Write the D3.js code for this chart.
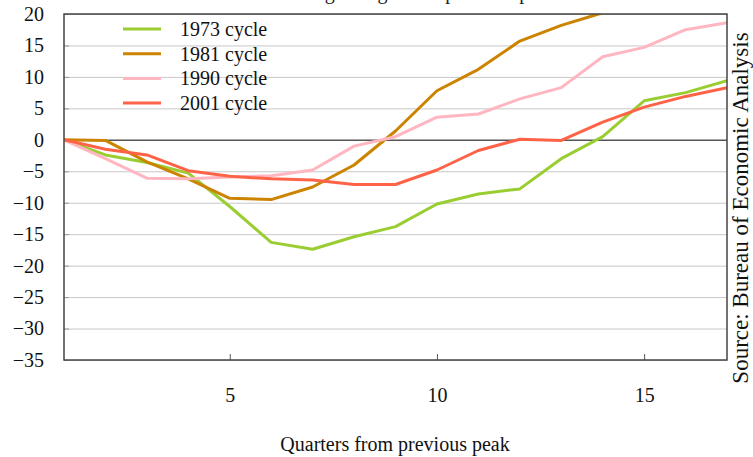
<!DOCTYPE html>
<html>
<head>
<meta charset="utf-8">
<script src="https://cdn.jsdelivr.net/npm/d3@7"></script>
<style>
  body { margin: 0; background: #fff; }
  svg, svg text { font-family: "Liberation Serif", "Times New Roman", serif !important; }
</style>
</head>
<body>
<div id="chart"></div>
<script>
// quarters since the previous peak
var quarters = d3.range(1, 18);

var cycles = ['1973 cycle', '1981 cycle', '1990 cycle', '2001 cycle'];
var colors = ['#9acd32', '#cc8400', '#ffb6c1', '#ff6347'];

var cycle1973 = [0, -2.4, -3.6, -5.3, -10.6, -16.3, -17.4, -15.4, -13.8, -10.2, -8.6, -7.8, -3.0, 0.5, 6.2, 7.5, 9.4];
var cycle1981 = [0, -0.1, -3.5, -6.2, -9.3, -9.5, -7.5, -4.0, 1.4, 7.8, 11.2, 15.7, 18.2, 20.2];
var cycle1990 = [0, -3.0, -6.1, -6.2, -5.9, -5.7, -4.8, -1.0, 0.5, 3.6, 4.1, 6.5, 8.3, 13.2, 14.7, 17.5, 18.6];
var cycle2001 = [0, -1.5, -2.4, -4.9, -5.8, -6.2, -6.4, -7.1, -7.1, -4.8, -1.7, 0.1, -0.1, 2.8, 5.2, 6.9, 8.3];

var yTicks = [20, 15, 10, 5, 0, -5, -10, -15, -20, -25, -30, -35];
var xTicks = [5, 10, 15];

var series = [cycle1973, cycle1981, cycle1990, cycle2001];

(function() {
  var width = 753, height = 457;
  var plotLeft = 64, plotRight = 727, plotTop = 14, plotBottom = 360;

  var svg = d3.select('#chart').append('svg')
      .attr('width', width)
      .attr('height', height);

  var x = d3.scaleLinear().domain([1, 17]).range([plotLeft, plotRight]);
  var y = d3.scaleLinear().domain([-35, 20]).range([plotBottom, plotTop]);

  // title sits mostly above the page, only its descenders show
  svg.append('text')
      .attr('x', 412)
      .attr('y', -1)
      .attr('text-anchor', 'middle')
      .style('font-size', '20px')
      .attr('fill', '#222')
      .text('Housing change from previous peak');

  svg.append('defs').append('clipPath')
      .attr('id', 'plotClip')
    .append('rect')
      .attr('x', plotLeft).attr('y', plotTop)
      .attr('width', plotRight - plotLeft).attr('height', plotBottom - plotTop);

  // grid lines
  svg.append('g')
      .attr('transform', 'translate(' + plotLeft + ',0)')
      .call(d3.axisLeft(y).tickValues(yTicks).tickSize(-(plotRight - plotLeft)).tickFormat(''))
      .call(function(g) {
        g.select('.domain').remove();
        g.selectAll('line')
          .attr('stroke', function(d) { return d === 0 ? '#555' : '#c8c8c8'; })
          .attr('stroke-width', function(d) { return d === 0 ? 1.5 : 1; });
      });

  // small inner ticks on the left edge
  svg.append('g')
      .attr('transform', 'translate(' + plotLeft + ',0)')
      .call(d3.axisLeft(y).tickValues(yTicks).tickSize(-5).tickFormat(''))
      .call(function(g) {
        g.select('.domain').remove();
        g.selectAll('line').attr('stroke', '#999');
      });

  // y tick labels
  svg.append('g')
      .attr('transform', 'translate(' + plotLeft + ',0)')
      .call(d3.axisLeft(y).tickValues(yTicks).tickSize(0).tickPadding(20)
        .tickFormat(function(d) { return d < 0 ? '\u2212' + Math.abs(d) : d; }))
      .call(function(g) {
        g.select('.domain').remove();
        g.selectAll('text').style('font-size', '20px').attr('fill', '#111');
      });

  // x axis: ticks point inward, labels well below
  svg.append('g')
      .attr('transform', 'translate(0,' + plotBottom + ')')
      .call(d3.axisBottom(x).tickValues(xTicks).tickSize(-6).tickPadding(28))
      .call(function(g) {
        g.select('.domain').remove();
        g.selectAll('line').attr('stroke', '#555');
        g.selectAll('text').style('font-size', '20px').attr('fill', '#111');
      });

  // lines
  var line = d3.line()
      .x(function(d, i) { return x(quarters[i]); })
      .y(function(d) { return y(d); });

  svg.append('g')
      .attr('clip-path', 'url(#plotClip)')
    .selectAll('path')
    .data(series).enter().append('path')
      .attr('d', line)
      .attr('fill', 'none')
      .attr('stroke', function(d, i) { return colors[i]; })
      .attr('stroke-width', 3)
      .attr('stroke-linejoin', 'round');

  // frame
  svg.append('rect')
      .attr('x', plotLeft).attr('y', plotTop)
      .attr('width', plotRight - plotLeft).attr('height', plotBottom - plotTop)
      .attr('fill', 'none')
      .attr('stroke', '#444')
      .attr('stroke-width', 1.5);

  // legend
  var legend = svg.append('g').selectAll('g')
      .data(cycles).enter().append('g')
      .attr('transform', function(d, i) { return 'translate(123,' + (29 + i * 24.7) + ')'; });
  legend.append('line')
      .attr('x1', 0).attr('x2', 38)
      .attr('stroke', function(d, i) { return colors[i]; })
      .attr('stroke-width', 3);
  legend.append('text')
      .attr('x', 57).attr('dy', '0.35em')
      .style('font-size', '20px')
      .attr('fill', '#111')
      .text(function(d) { return d; });

  // axis title
  svg.append('text')
      .attr('x', 395).attr('y', 451)
      .attr('text-anchor', 'middle')
      .style('font-size', '20px')
      .attr('fill', '#111')
      .text('Quarters from previous peak');

  // source note
  svg.append('text')
      .attr('transform', 'translate(748,208) rotate(-90)')
      .attr('text-anchor', 'middle')
      .style('font-size', '23px')
      .attr('fill', '#111')
      .text('Source: Bureau of Economic Analysis');
})();
</script>
</body>
</html>
